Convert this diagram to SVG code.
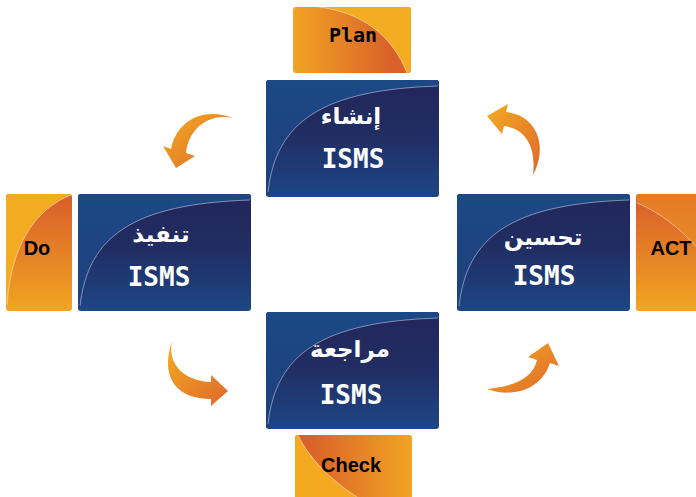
<svg xmlns="http://www.w3.org/2000/svg" xmlns:xlink="http://www.w3.org/1999/xlink" width="696" height="497" viewBox="0 0 696 497">
<style>
.isms{font-family:"DejaVu Sans Mono","Liberation Mono",monospace;font-weight:bold;font-size:26px;fill:#fff;text-anchor:middle}
.ar{font-family:"DejaVu Sans","Noto Sans",sans-serif;font-weight:bold;font-size:23px;fill:#fff;text-anchor:middle}
.lab{font-family:"Liberation Sans",Arial,sans-serif;font-weight:bold;font-size:20px;fill:#000;text-anchor:middle}
.mono{font-family:"DejaVu Sans Mono","Liberation Mono",monospace;font-weight:bold;font-size:20px;fill:#000;text-anchor:middle}
.curve{fill:none;stroke:#fff;stroke-opacity:0.55;stroke-width:0.8}
.arrow{fill:url(#arrowGrad)}
</style>
<defs>
<linearGradient id="blueLow" x1="0" y1="0" x2="0" y2="1">
<stop offset="0" stop-color="#22265a"/>
<stop offset="0.45" stop-color="#212d62"/>
<stop offset="1" stop-color="#1d4685"/>
</linearGradient>
<linearGradient id="blueHigh" x1="0" y1="0" x2="0" y2="1">
<stop offset="0" stop-color="#1c4886"/>
<stop offset="1" stop-color="#1d3f7c"/>
</linearGradient>
<linearGradient id="orH" x1="0" y1="0" x2="1" y2="0">
<stop offset="0" stop-color="#f2a423"/>
<stop offset="0.85" stop-color="#d9602a"/>
</linearGradient>
<linearGradient id="orHr" x1="1" y1="0" x2="0" y2="0">
<stop offset="0" stop-color="#f2a423"/>
<stop offset="0.9" stop-color="#d9602a"/>
</linearGradient>
<linearGradient id="orV" x1="0" y1="0" x2="0" y2="1">
<stop offset="0.05" stop-color="#d9602a"/>
<stop offset="1" stop-color="#f2a522"/>
</linearGradient>
<linearGradient id="arrowGrad" x1="0" y1="0" x2="1" y2="1">
<stop offset="0" stop-color="#f4aa22"/>
<stop offset="1" stop-color="#de6a2a"/>
</linearGradient>
<clipPath id="blueClip"><rect x="0" y="0" width="173" height="117" rx="3"/></clipPath>
<g id="bluebox">
<rect x="0" y="0" width="173" height="117" rx="3" fill="url(#blueLow)"/>
<g clip-path="url(#blueClip)">
<path d="M0 0 H173 V6 C55 10 10 42 2 112 L0 117 Z" fill="url(#blueHigh)"/>
</g>
<path class="curve" d="M2 112 C10 42 55 10 172 6"/>
</g>
</defs>

<g id="connectors">
<path id="arrow-plan-do" class="arrow" d="M233 118 C210 113 189 127 186 153 L195 156 L176 168 L163 146 L171 149 C177 119 205 107 233 118 Z"/>
<path id="arrow-do-check" class="arrow" d="M172 341 C167 365 185 381 211 382 L211 375 L228 391 L211 406 L211 399 C179 399 159 380 172 341 Z"/>
<path id="arrow-check-act" class="arrow" d="M548 343 L559 366 L550 363 C541 391 510 398 487 389 C515 386 533 378 537 360 L528 357 Z"/>
<path id="arrow-act-plan" class="arrow" d="M487 116 L508 104 L506 112 C536 115 549 145 533 175 C536 150 528 129 504 126 L502 134 Z"/>
</g>

<g id="plan">
<rect x="293" y="7" width="118" height="66" rx="3" fill="url(#orH)"/>
<path d="M318 7 C363 12 393 37 407 73 L408 73 Q411 73 411 70 V10 Q411 7 408 7 Z" fill="#f3ab21"/>
<path class="curve" d="M318 7 C363 12 393 37 407 73"/>
<text class="mono" x="353" y="42">Plan</text>
</g>

<g id="check">
<rect x="295" y="435" width="117" height="70" rx="3" fill="url(#orHr)"/>
<path d="M298 435 C310 460 335 485 370 505 L298 505 Q295 505 295 502 V438 Q295 435 298 435 Z" fill="#f3aa21"/>
<path class="curve" d="M298 435 C310 460 335 485 370 505"/>
<text class="lab" x="351" y="472">Check</text>
</g>

<g id="do">
<rect x="6" y="194" width="66" height="117" rx="3" fill="url(#orV)"/>
<path d="M71 195 C36 209 11 244 7 305 L6 305 V197 Q6 194 9 194 H69 Z" fill="#f3ab21"/>
<path class="curve" d="M71 195 C36 209 11 244 7 305"/>
<text class="lab" x="37" y="255">Do</text>
</g>

<g id="act">
<rect x="636" y="194" width="70" height="117" rx="3" fill="url(#orV)"/>
<path d="M637 203 C660 212 690 235 706 260 V194 H639 Q636 194 636 197 Z" fill="#ec9425" opacity="0.55"/>
<path class="curve" d="M637 203 C660 212 690 235 706 260"/>
<text class="lab" x="671" y="255">ACT</text>
</g>

<g id="isms-establish">
<use xlink:href="#bluebox" transform="translate(266,80)"/>
<text class="ar" x="351" y="124">إنشاء</text>
<text class="isms" x="353" y="168">ISMS</text>
</g>

<g id="isms-implement">
<use xlink:href="#bluebox" transform="translate(78,194)"/>
<text class="ar" x="161" y="242">تنفيذ</text>
<text class="isms" x="159" y="286">ISMS</text>
</g>

<g id="isms-improve">
<use xlink:href="#bluebox" transform="translate(457,194)"/>
<text class="ar" x="543" y="245">تحسين</text>
<text class="isms" x="544" y="285">ISMS</text>
</g>

<g id="isms-review">
<use xlink:href="#bluebox" transform="translate(266,312)"/>
<text class="ar" x="350" y="357">مراجعة</text>
<text class="isms" x="351" y="404">ISMS</text>
</g>
</svg>
